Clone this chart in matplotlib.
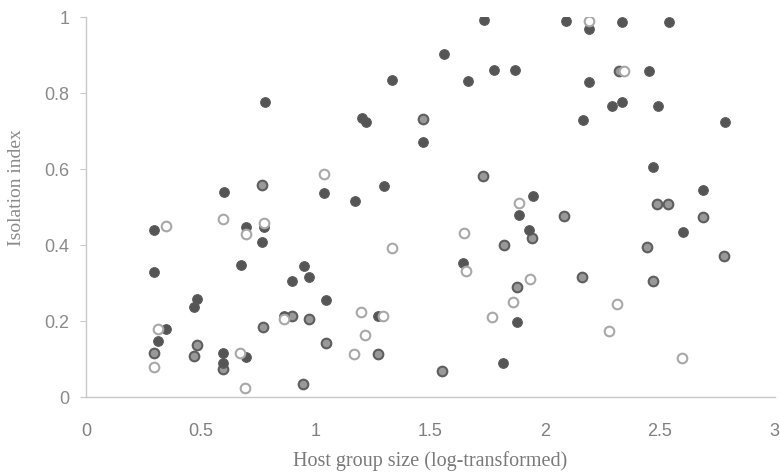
import matplotlib
matplotlib.use("Agg")
import matplotlib.pyplot as plt

# Solid symbols
filled_x = [0.78, 0.60, 0.296, 0.696, 0.774, 0.765, 0.296, 0.674, 0.950, 0.898, 0.973,
            0.485, 0.471, 0.347, 0.315, 0.595, 0.595, 0.696, 0.863,
            1.734, 1.560, 1.778, 1.871, 1.335, 1.663, 1.203, 1.220, 1.468, 1.037, 1.174,
            1.297, 1.946, 1.887, 1.932, 1.644, 1.044, 1.879, 1.271, 1.817,
            2.090, 2.192, 2.337, 2.542, 2.453, 2.193, 2.291, 2.337, 2.491, 2.167, 2.783,
            2.472, 2.690, 2.600]
filled_y = [0.777, 0.539, 0.439, 0.448, 0.447, 0.407, 0.330, 0.347, 0.346, 0.306, 0.315,
            0.258, 0.238, 0.178, 0.147, 0.117, 0.090, 0.106, 0.214,
            0.992, 0.903, 0.861, 0.861, 0.834, 0.832, 0.735, 0.725, 0.672, 0.536, 0.516,
            0.555, 0.530, 0.479, 0.439, 0.352, 0.255, 0.197, 0.213, 0.089,
            0.990, 0.968, 0.988, 0.987, 0.857, 0.828, 0.766, 0.777, 0.766, 0.728, 0.723,
            0.606, 0.545, 0.433]

# Grey symbols with a dark rim
ringed_x = [0.765, 0.296, 0.485, 0.471, 0.595, 0.773, 0.898, 0.973, 0.947,
            1.468, 1.728, 1.945, 1.821, 1.879, 1.044, 1.271, 1.551,
            2.322, 2.486, 2.537, 2.083, 2.687, 2.446, 2.779, 2.160, 2.469]
ringed_y = [0.558, 0.117, 0.137, 0.108, 0.075, 0.185, 0.214, 0.204, 0.034,
            0.732, 0.582, 0.419, 0.400, 0.289, 0.143, 0.112, 0.069,
            0.858, 0.507, 0.507, 0.477, 0.474, 0.396, 0.372, 0.317, 0.304]

# Open symbols
open_x = [0.349, 0.598, 0.696, 0.774, 0.315, 0.296, 0.671, 0.691, 0.863,
          1.037, 1.885, 1.647, 1.332, 1.656, 1.933, 1.862, 1.770, 1.197, 1.296,
          1.216, 1.169, 2.192, 2.345, 2.315, 2.280, 2.597]
open_y = [0.451, 0.468, 0.428, 0.459, 0.178, 0.078, 0.115, 0.025, 0.204,
          0.586, 0.511, 0.431, 0.393, 0.332, 0.310, 0.249, 0.210, 0.223, 0.213,
          0.162, 0.112, 0.990, 0.858, 0.245, 0.175, 0.102]

x_ticks = [0, 0.5, 1, 1.5, 2, 2.5, 3]
x_tick_labels = ["0", "0.5", "1", "1.5", "2", "2.5", "3"]
y_ticks = [0, 0.2, 0.4, 0.6, 0.8, 1]
y_tick_labels = ["0", "0.2", "0.4", "0.6", "0.8", "1"]

fig = plt.figure(figsize=(7.8, 4.75), dpi=100)
ax = fig.add_axes([86 / 780, 78 / 475, 688.5 / 780, 380 / 475])

ms = 48
ax.scatter(ringed_x, ringed_y, s=ms, facecolor="#999999", edgecolor="#5e5e5e",
           linewidths=1.5, zorder=3)
ax.scatter(filled_x, filled_y, s=ms, facecolor="#555555", edgecolor="#5a5a5a",
           linewidths=0.8, zorder=4)
ax.scatter(open_x, open_y, s=ms, facecolor="white", edgecolor="#a8a8a8",
           linewidths=1.5, zorder=5)

ax.set_xlim(0, 3)
ax.set_ylim(0, 1)

for side in ("top", "right"):
    ax.spines[side].set_visible(False)
for side in ("left", "bottom"):
    ax.spines[side].set_color("#c8c8c8")
    ax.spines[side].set_linewidth(1.0)

ax.set_xticks(x_ticks)
ax.set_xticklabels(x_tick_labels, family="Liberation Sans", fontsize=13, color="#808080")
ax.set_yticks(y_ticks)
ax.set_yticklabels(y_tick_labels, family="Liberation Sans", fontsize=13, color="#8a8a8a")
ax.tick_params(axis="x", length=0, pad=19)
ax.tick_params(axis="y", length=4, width=0.8, color="#c8c8c8", pad=8)

ax.set_xlabel("Host group size (log-transformed)", family="Liberation Serif",
              fontsize=14.5, color="#7a7a7a")
ax.xaxis.set_label_coords(0.5, -0.143)
ax.set_ylabel("Isolation index", family="Liberation Serif", fontsize=14,
              color="#8a8a8a")
ax.yaxis.set_label_coords(-0.088, 0.55)

fig.savefig("out.png", dpi=100)
